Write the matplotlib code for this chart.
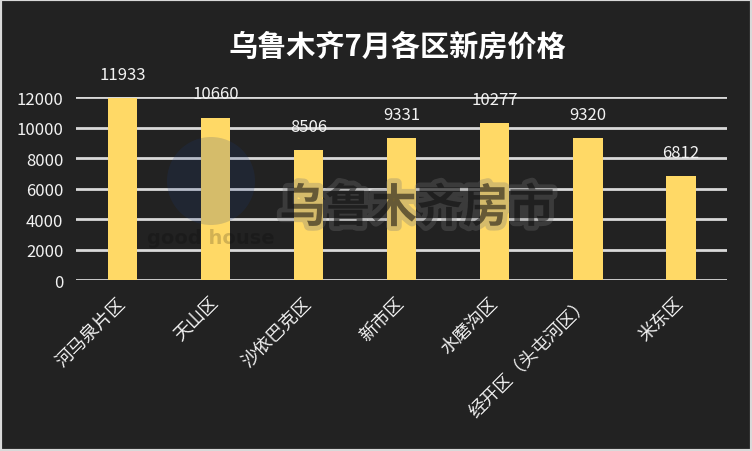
import matplotlib
matplotlib.use("Agg")
import matplotlib.pyplot as plt
import matplotlib.patheffects as pe
from matplotlib.patches import Rectangle, Ellipse

plt.rcParams['font.family'] = ['Noto Sans CJK SC', 'DejaVu Sans']

districts = ['河马泉片区', '天山区', '沙依巴克区', '新市区', '水磨沟区', '经开区（头屯河区）', '米东区']
prices = [11933, 10660, 8506, 9331, 10277, 9320, 6812]
y_ticks = [0, 2000, 4000, 6000, 8000, 10000, 12000]
title = '乌鲁木齐7月各区新房价格'

bg = '#222222'
bar_color = '#FFD966'
grid_color = '#D9D9D9'
text_color = '#F2F2F2'

W, H = 752, 452
fig = plt.figure(figsize=(W / 100, H / 100), dpi=100, facecolor=bg)
fig.patches.append(Rectangle((0, 0), 1, 1, transform=fig.transFigure,
                             facecolor='none', edgecolor='#D9D9D9', linewidth=3, zorder=0))

ax = fig.add_axes([0.101, 0.378, 0.866, 0.405])
ax.set_facecolor(bg)
x = range(len(districts))
ax.bar(x, prices, width=0.32, color=bar_color, zorder=2)

ax.set_xlim(-0.5, len(districts) - 0.5)
ax.set_ylim(0, 12000)
ax.set_yticks(y_ticks)
ax.set_yticklabels([str(v) for v in y_ticks], fontsize=12, color=text_color)
ax.yaxis.grid(True, color=grid_color, linewidth=2)
ax.set_axisbelow(True)
ax.tick_params(axis='both', length=0)
ax.tick_params(axis='y', pad=9)
for s in ax.spines.values():
    s.set_visible(False)

ax.set_xticks(list(x))
ax.set_xticklabels(districts, fontsize=13, color=text_color, rotation=45,
                   ha='right', va='center', rotation_mode='anchor')
ax.tick_params(axis='x', pad=14)

for xi, v in zip(x, prices):
    ax.annotate(str(v), (xi, v), xytext=(0, 17), textcoords='offset points',
                ha='center', va='center', fontsize=12, color=text_color,
                annotation_clip=False)

fig.text(0.528, 0.898, title, ha='center', va='center', fontsize=21,
         fontweight='bold', color='white')

# faint watermark
r = 44
fig.patches.append(Ellipse((211 / W, 1 - 182 / H), width=2 * r / W, height=2 * r / H,
                           transform=fig.transFigure, facecolor='#1B3A80', alpha=0.18,
                           edgecolor='none', zorder=5))
fig.text(211 / W, 1 - 238 / H, 'good house', ha='center', va='center', fontsize=14,
         fontweight='bold', color='#000000', alpha=0.18, family='DejaVu Sans', zorder=5)
fig.text(417 / W, 1 - 210 / H, '乌鲁木齐房市', ha='center', va='center', fontsize=33,
         fontweight='black', color='#000000', alpha=0.2, zorder=6,
         path_effects=[pe.withStroke(linewidth=7, foreground='#777777', alpha=0.3),
                       pe.Normal()])

fig.savefig('out.png', dpi=100, facecolor=bg)
